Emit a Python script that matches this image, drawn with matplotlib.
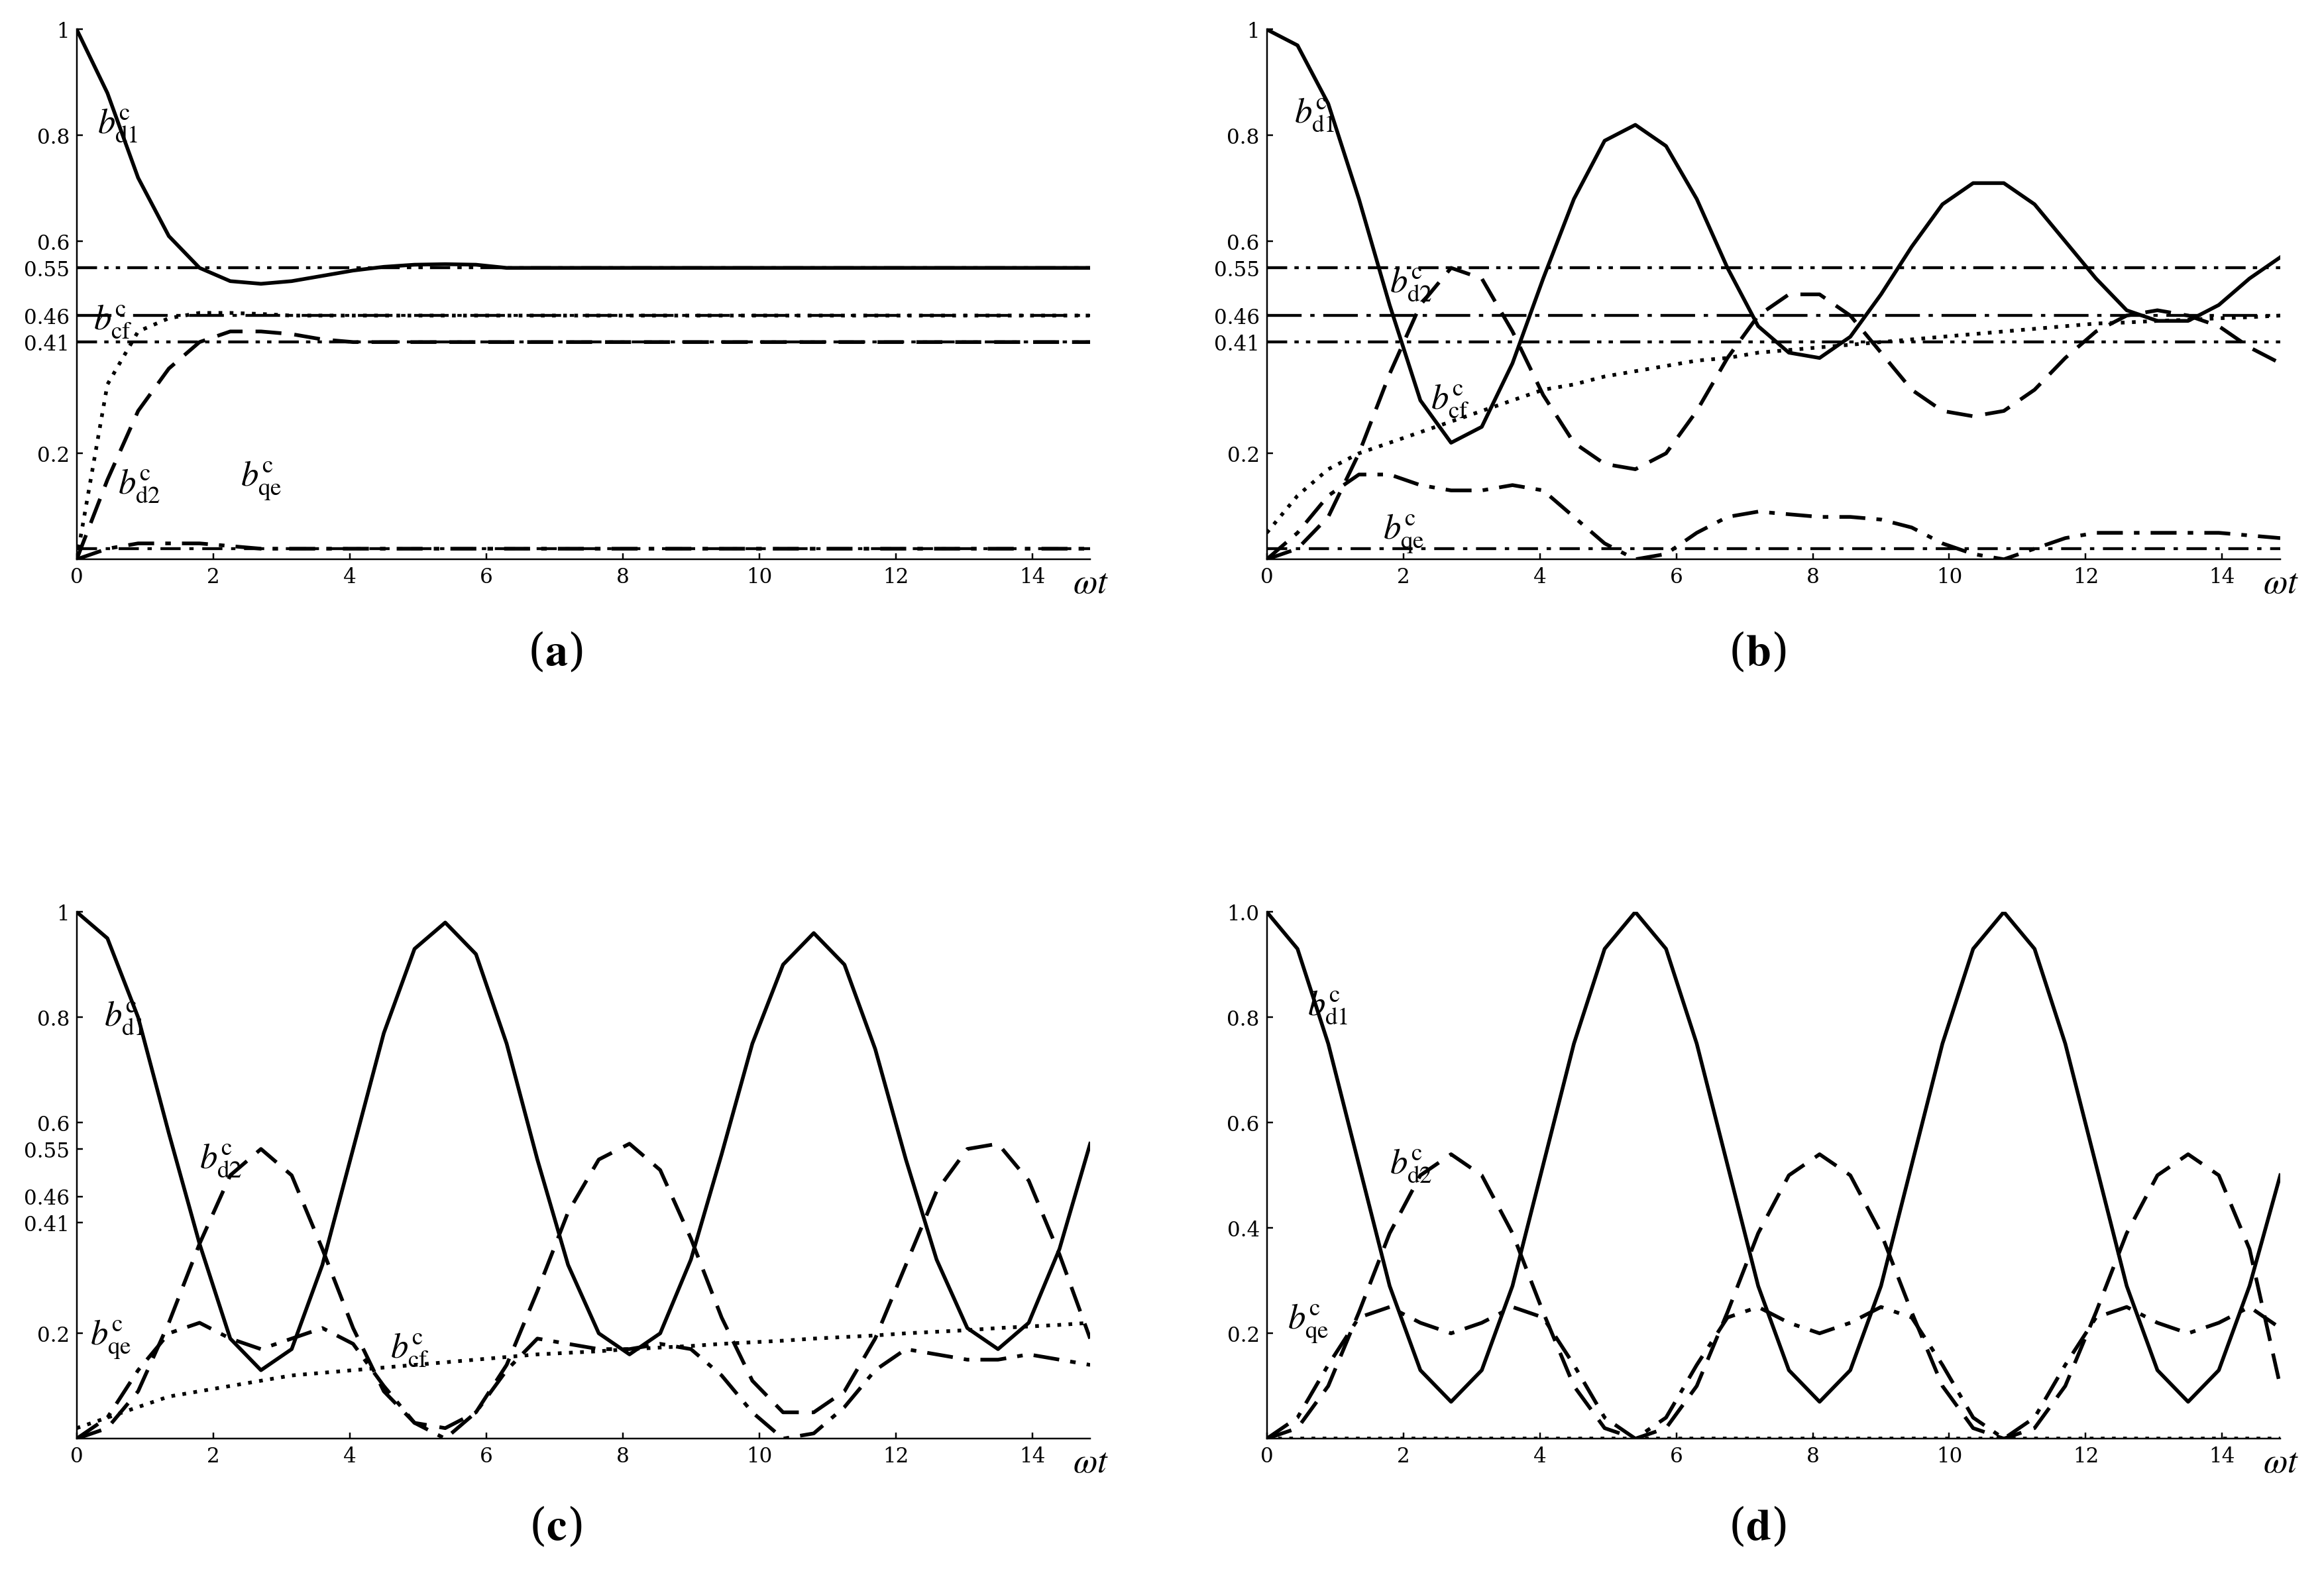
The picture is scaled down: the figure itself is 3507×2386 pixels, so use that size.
import numpy as np
import matplotlib.pyplot as plt

plt.rcParams['font.family'] = ['DejaVu Serif']
plt.rcParams['mathtext.fontset'] = 'stix'

# common time grid (step 0.45)
t = np.arange(34) * 0.45

# panel (a)
a_d1 = [1, 0.88, 0.72, 0.61, 0.55, 0.525, 0.52, 0.525, 0.535, 0.545, 0.552, 0.556, 0.557, 0.556] + [0.55] * 20
a_cf = [0, 0.33, 0.43, 0.455, 0.465, 0.465, 0.463] + [0.46] * 27
a_d2 = [0, 0.15, 0.28, 0.36, 0.41, 0.43, 0.43, 0.425, 0.415] + [0.41] * 25
a_qe = [0, 0.02, 0.03, 0.03, 0.03, 0.025] + [0.02] * 28

# panel (b)
b_d1 = [1, 0.97, 0.86, 0.68, 0.48, 0.3, 0.22, 0.25, 0.37, 0.53, 0.68, 0.79, 0.82, 0.78, 0.68, 0.55, 0.44,
        0.39, 0.38, 0.42, 0.5, 0.59, 0.67, 0.71, 0.71, 0.67, 0.6, 0.53, 0.47, 0.45, 0.45, 0.48, 0.53, 0.57]
b_d2 = [0, 0.02, 0.08, 0.2, 0.35, 0.48, 0.55, 0.53, 0.43, 0.31, 0.22, 0.18, 0.17, 0.2, 0.28, 0.38, 0.46,
        0.5, 0.5, 0.46, 0.39, 0.32, 0.28, 0.27, 0.28, 0.32, 0.38, 0.43, 0.46, 0.47, 0.46, 0.44, 0.4, 0.37]
b_qe = [0, 0.05, 0.12, 0.16, 0.16, 0.14, 0.13, 0.13, 0.14, 0.13, 0.08, 0.03, 0.0, 0.01, 0.05, 0.08, 0.09,
        0.085, 0.08, 0.08, 0.075, 0.06, 0.03, 0.01, 0.0, 0.02, 0.04, 0.05, 0.05, 0.05, 0.05, 0.05, 0.045, 0.04]
b_cf = [0.05, 0.12, 0.17, 0.2, 0.22, 0.24, 0.26, 0.28, 0.3, 0.32, 0.33, 0.345, 0.355, 0.365, 0.375, 0.38,
        0.39, 0.395, 0.4, 0.405, 0.41, 0.415, 0.42, 0.425, 0.43, 0.435, 0.44, 0.445, 0.447, 0.45, 0.452,
        0.455, 0.457, 0.46]

# panel (c)
c_d1 = [1, 0.95, 0.8, 0.58, 0.37, 0.19, 0.13, 0.17, 0.33, 0.55, 0.77, 0.93, 0.98, 0.92, 0.75, 0.53, 0.33,
        0.2, 0.16, 0.2, 0.34, 0.54, 0.75, 0.9, 0.96, 0.9, 0.74, 0.53, 0.34, 0.21, 0.17, 0.22, 0.36, 0.56]
c_d2 = [0, 0.02, 0.09, 0.22, 0.37, 0.5, 0.55, 0.5, 0.36, 0.21, 0.09, 0.03, 0.02, 0.05, 0.14, 0.28, 0.43,
        0.53, 0.56, 0.51, 0.38, 0.23, 0.11, 0.05, 0.05, 0.09, 0.19, 0.33, 0.47, 0.55, 0.56, 0.49, 0.35, 0.19]
c_qe = [0, 0.04, 0.13, 0.2, 0.22, 0.19, 0.17, 0.19, 0.21, 0.18, 0.1, 0.03, 0.0, 0.05, 0.13, 0.19, 0.18,
        0.17, 0.17, 0.18, 0.17, 0.12, 0.05, 0.0, 0.01, 0.06, 0.13, 0.17, 0.16, 0.15, 0.15, 0.16, 0.15, 0.14]
c_cf = [0.02, 0.04, 0.06, 0.08, 0.09, 0.1, 0.11, 0.12, 0.125, 0.13, 0.135, 0.14, 0.145, 0.15, 0.155, 0.16,
        0.163, 0.166, 0.17, 0.173, 0.176, 0.18, 0.183, 0.186, 0.19, 0.193, 0.196, 0.2, 0.203, 0.206, 0.21,
        0.213, 0.216, 0.22]

# panel (d)
d_d1 = [1, 0.93, 0.75, 0.52, 0.29, 0.13, 0.07, 0.13, 0.29, 0.52, 0.75, 0.93] * 2 + \
       [1, 0.93, 0.75, 0.52, 0.29, 0.13, 0.07, 0.13, 0.29, 0.5]
d_d2 = [0, 0.02, 0.1, 0.24, 0.39, 0.5, 0.54, 0.5, 0.39, 0.24, 0.1, 0.02] * 2 + \
       [0, 0.02, 0.1, 0.24, 0.39, 0.5, 0.54, 0.5, 0.36, 0.1]
d_qe = [0, 0.04, 0.14, 0.23, 0.25, 0.22, 0.2, 0.22, 0.25, 0.23, 0.14, 0.04] * 2 + \
       [0, 0.04, 0.14, 0.23, 0.25, 0.22, 0.2, 0.22, 0.25, 0.21]
d_cf = [0.0] * 34

ticks_abc = [0.2, 0.41, 0.46, 0.55, 0.6, 0.8, 1]
ticklabels_abc = ['0.2', '0.41', '0.46', '0.55', '0.6', '0.8', '1']
ticks_d = [0.2, 0.4, 0.6, 0.8, 1.0]

DASH = (0, (7, 3.5))
DOT = (0, (1, 2))
DASHDOT = (0, (7, 3, 1.5, 3))
DASHDOTDOT = (0, (7, 2.5, 1.5, 2.5, 1.5, 2.5))

fig = plt.figure(figsize=(15.68, 10.67), dpi=223.7)


def panel(rect, d1, d2, qe, cf, labels, caption, cap_xy, hlines=True, yt=None, ytl=None):
    ax = fig.add_axes(rect)
    kw = dict(color='black', lw=1.8)
    if hlines:
        ax.axhline(0.55, color='black', lw=1.4, ls=DASHDOTDOT)
        ax.axhline(0.46, color='black', lw=1.4, ls=(0, (12, 3, 1.5, 3)))
        ax.axhline(0.41, color='black', lw=1.4, ls=DASHDOTDOT)
        ax.axhline(0.02, color='black', lw=1.4, ls=DASHDOT)
    ax.plot(t, d1, ls='-', **kw)
    ax.plot(t, d2, ls=DASH, **kw)
    ax.plot(t, qe, ls=DASHDOT, **kw)
    ax.plot(t, cf, ls=DOT, **kw)
    ax.set_xlim(0, 14.85)
    ax.set_ylim(0, 1.0)
    ax.set_xticks(range(0, 15, 2))
    ax.set_yticks(yt)
    ax.set_yticklabels(ytl)
    ax.tick_params(labelsize=10, length=3, direction='in')
    for s in ('top', 'right'):
        ax.spines[s].set_visible(False)
    ax.text(14.6, -0.045, r'$\omega t$', fontsize=17, ha='left', va='center')
    names = {'d1': r'$b^{\rm c}_{\rm d1}$', 'd2': r'$b^{\rm c}_{\rm d2}$',
             'qe': r'$b^{\rm c}_{\rm qe}$', 'cf': r'$b^{\rm c}_{\rm cf}$'}
    for k, (x, y) in labels.items():
        ax.text(x, y, names[k], fontsize=17, ha='left', va='center')
    fig.text(cap_xy[0], cap_xy[1], caption, fontsize=22, ha='center', va='center')
    return ax


panel([0.033, 0.646, 0.436, 0.335], a_d1, a_d2, a_qe, a_cf,
      {'d1': (0.3, 0.82), 'cf': (0.25, 0.45), 'd2': (0.6, 0.14), 'qe': (2.4, 0.15)},
      r'($\mathbf{a}$)', (0.239, 0.587), True, ticks_abc, ticklabels_abc)
panel([0.545, 0.646, 0.436, 0.335], b_d1, b_d2, b_qe, b_cf,
      {'d1': (0.4, 0.84), 'd2': (1.8, 0.52), 'cf': (2.4, 0.3), 'qe': (1.7, 0.05)},
      r'($\mathbf{b}$)', (0.756, 0.587), True, ticks_abc, ticklabels_abc)
panel([0.033, 0.09, 0.436, 0.333], c_d1, c_d2, c_qe, c_cf,
      {'d1': (0.4, 0.8), 'd2': (1.8, 0.53), 'qe': (0.2, 0.19), 'cf': (4.6, 0.17)},
      r'($\mathbf{c}$)', (0.239, 0.034), False, ticks_abc, ticklabels_abc)
panel([0.545, 0.09, 0.436, 0.333], d_d1, d_d2, d_qe, d_cf,
      {'d1': (0.6, 0.82), 'd2': (1.8, 0.52), 'qe': (0.3, 0.22)},
      r'($\mathbf{d}$)', (0.756, 0.034), False, ticks_d, ['0.2', '0.4', '0.6', '0.8', '1.0'])

fig.savefig('out.png', dpi=223.7)
